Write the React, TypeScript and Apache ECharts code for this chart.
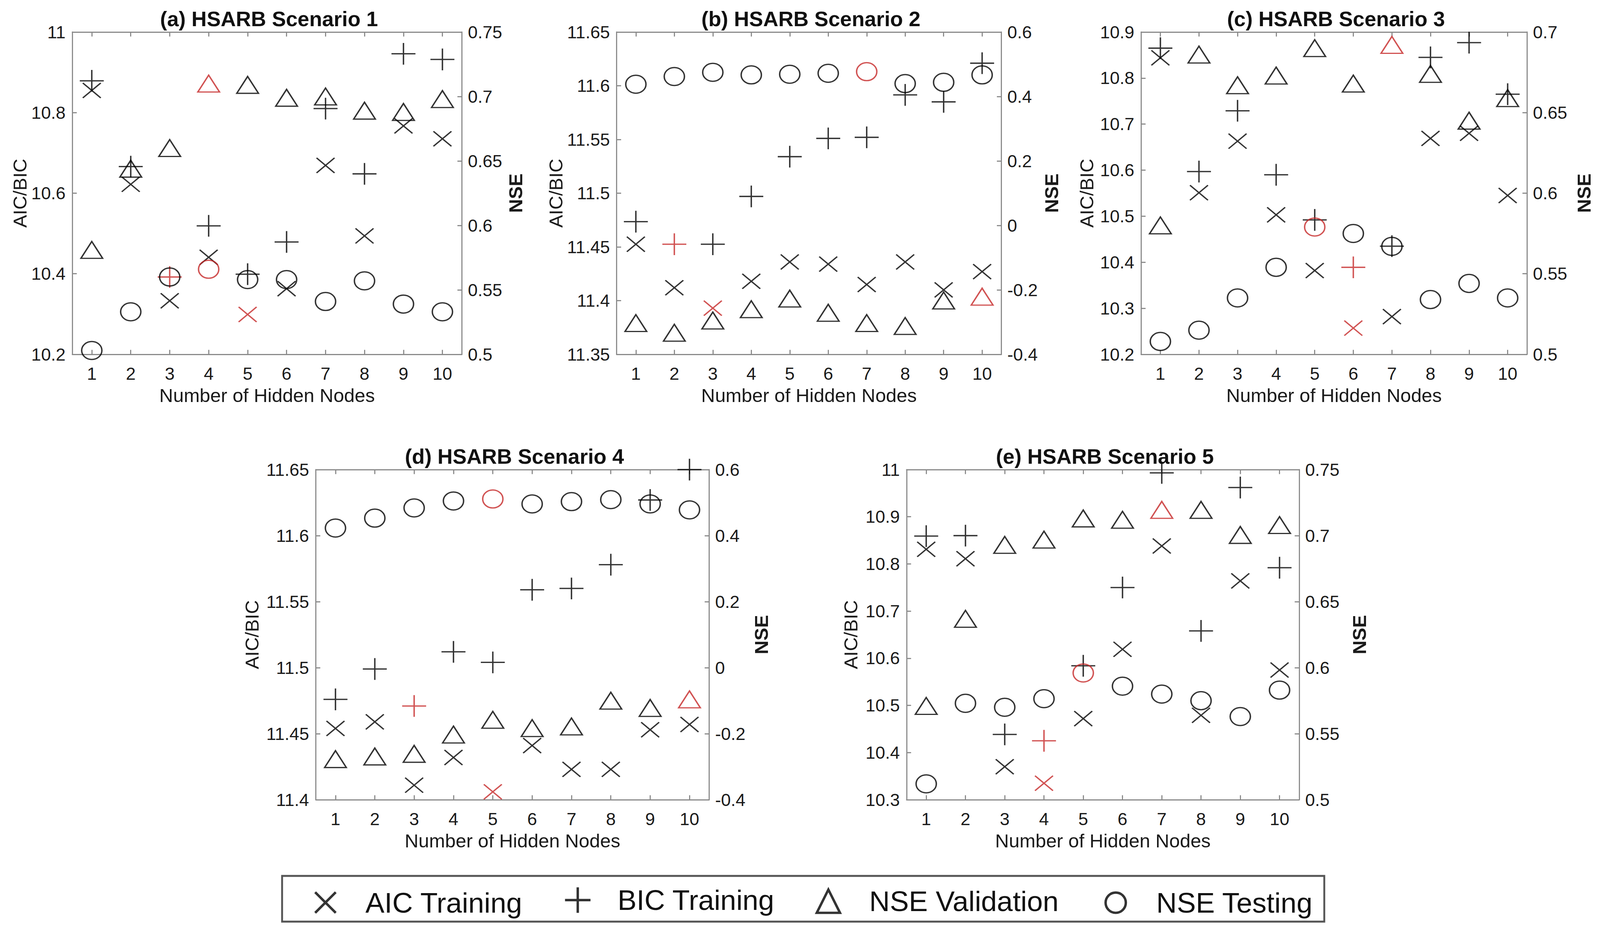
import React, { useEffect, useRef } from "react";
import * as echarts from "echarts";

// ---- data ----
const nodes = ["1", "2", "3", "4", "5", "6", "7", "8", "9", "10"];

const aicA = [10.855, 10.622, 10.333, 10.441, 10.299, 10.363, 10.669, 10.494, 10.767, 10.735];
const bicA = [10.879, 10.666, 10.392, 10.519, 10.399, 10.479, 10.81, 10.648, 10.946, 10.932];
const valA = [0.581, 0.644, 0.66, 0.71, 0.709, 0.699, 0.7, 0.689, 0.688, 0.698];
const testA = [0.503, 0.533, 0.56, 0.566, 0.558, 0.558, 0.541, 0.557, 0.539, 0.533];

const aicB = [11.4525, 11.412, 11.393, 11.418, 11.436, 11.434, 11.415, 11.436, 11.41, 11.427];
const bicB = [11.4735, 11.4525, 11.4525, 11.497, 11.534, 11.551, 11.552, 11.5915, 11.585, 11.621];
const valB = [-0.303, -0.333, -0.295, -0.26, -0.227, -0.271, -0.303, -0.312, -0.233, -0.221];
const testB = [0.438, 0.462, 0.475, 0.467, 0.469, 0.472, 0.477, 0.44, 0.444, 0.467];

const aicC = [10.844, 10.551, 10.663, 10.503, 10.382, 10.257, 10.282, 10.669, 10.68, 10.545];
const bicC = [10.865, 10.597, 10.729, 10.59, 10.492, 10.389, 10.435, 10.845, 10.877, 10.765];
const valC = [0.58, 0.686, 0.667, 0.673, 0.69, 0.668, 0.692, 0.674, 0.645, 0.659];
const testC = [0.508, 0.515, 0.535, 0.554, 0.579, 0.575, 0.567, 0.534, 0.544, 0.535];

const aicD = [11.454, 11.459, 11.411, 11.432, 11.406, 11.441, 11.423, 11.423, 11.453, 11.457];
const bicD = [11.476, 11.499, 11.471, 11.512, 11.504, 11.559, 11.56, 11.578, 11.627, 11.65];
const valD = [-0.277, -0.269, -0.261, -0.2025, -0.158, -0.183, -0.178, -0.1, -0.122, -0.096];
const testD = [0.423, 0.453, 0.484, 0.505, 0.511, 0.496, 0.503, 0.509, 0.496, 0.478];

const aicE = [10.831, 10.811, 10.37, 10.335, 10.472, 10.619, 10.838, 10.479, 10.764, 10.575];
const bicE = [10.859, 10.86, 10.4385, 10.425, 10.584, 10.75, 10.993, 10.658, 10.962, 10.792];
const valE = [0.571, 0.637, 0.693, 0.697, 0.713, 0.712, 0.7195, 0.7195, 0.7005, 0.708];
const testE = [0.512, 0.573, 0.57, 0.5765, 0.596, 0.586, 0.58, 0.575, 0.563, 0.583];

// index (0-based) of the highlighted (red) point in each series: [aic, bic, val, test]
const redA = [4, 2, 3, 3];
const redB = [2, 1, 9, 6];
const redC = [5, 5, 6, 4];
const redD = [4, 2, 9, 4];
const redE = [3, 3, 6, 4];

const titles = [
  "(a) HSARB Scenario 1",
  "(b) HSARB Scenario 2",
  "(c) HSARB Scenario 3",
  "(d) HSARB Scenario 4",
  "(e) HSARB Scenario 5",
];
const seriesNames = ["AIC Training", "BIC Training", "NSE Validation", "NSE Testing"];

// ---- styling / layout (designed for a 4271 x 2383 page) ----
const BASE_W = 4271;
const BASE_H = 2383;
const FONT = "'Liberation Sans', Arial, Helvetica, sans-serif";
const RED = "#c62828";
const AXIS = "#8a8a8a";
const TXT = "#1a1a1a";

const SYM_X = "path://M0,0L10,10M10,0L0,10";
const SYM_PLUS = "path://M5,0L5,10M0,5L10,5";
const SYM_TRI = "path://M5,0L10,10L0,10Z";
const SYM_CIRC = "path://M0,5A5,5,0,1,1,10,5A5,5,0,1,1,0,5Z";

const symbols = [SYM_X, SYM_PLUS, SYM_TRI, SYM_CIRC];
const sizes = [[48, 40], [64, 58], [58, 45], [54, 48]];

const panels = [
  { grid: { left: 193, top: 82, width: 1040, height: 825 }, yl: [10.2, 11, 0.2], yr: [0.5, 0.75, 0.05],
    d: [aicA, bicA, valA, testA], red: redA, gl: 114, gr: 118, titleY: 16 },
  { grid: { left: 1646, top: 82, width: 1027, height: 825 }, yl: [11.35, 11.65, 0.05], yr: [-0.4, 0.6, 0.2],
    d: [aicB, bicB, valB, testB], red: redB, gl: 136, gr: 108, titleY: 16 },
  { grid: { left: 3046, top: 82, width: 1030, height: 825 }, yl: [10.2, 10.9, 0.1], yr: [0.5, 0.7, 0.05],
    d: [aicC, bicC, valC, testC], red: redC, gl: 120, gr: 127, titleY: 16 },
  { grid: { left: 843, top: 1202, width: 1050, height: 845 }, yl: [11.4, 11.65, 0.05], yr: [-0.4, 0.6, 0.2],
    d: [aicD, bicD, valD, testD], red: redD, gl: 145, gr: 114, titleY: 1136 },
  { grid: { left: 2420, top: 1202, width: 1048, height: 845 }, yl: [10.3, 11, 0.1], yr: [0.5, 0.75, 0.05],
    d: [aicE, bicE, valE, testE], red: redE, gl: 123, gr: 135, titleY: 1136 },
];

const legendCfg = [
  { left: 838, size: 55, pad: 74 },
  { left: 1505, size: 68, pad: 67 },
  { left: 2177, size: 62, pad: 73 },
  { left: 2948, size: 54, pad: 76 },
];

const fmt = (v: number) => String(parseFloat(v.toFixed(4)));

function buildOption(sx: number, sy: number) {
  const f = Math.min(sx, sy);
  const X = (v: number) => v * sx;
  const Y = (v: number) => v * sy;
  const grid: any[] = [];
  const xAxis: any[] = [];
  const yAxis: any[] = [];
  const series: any[] = [];
  const title: any[] = [];

  const lineStyle = { color: AXIS, width: 3 * f };
  panels.forEach((p, i) => {
    grid.push({
      left: X(p.grid.left), top: Y(p.grid.top), width: X(p.grid.width), height: Y(p.grid.height),
      containLabel: false,
    });
    title.push({
      text: titles[i],
      left: X(p.grid.left + p.grid.width / 2),
      textAlign: "center",
      top: Y(p.titleY),
      textStyle: { fontFamily: FONT, fontSize: 56 * f, fontWeight: "bold", color: "#111" },
    });
    xAxis.push({
      type: "category", gridIndex: i, data: nodes, position: "bottom", boundaryGap: true,
      axisLine: { show: true, onZero: false, lineStyle },
      axisTick: { show: true, inside: true, alignWithLabel: true, length: 12 * f, lineStyle },
      axisLabel: { fontFamily: FONT, fontSize: 47 * f, color: TXT, margin: 28 * f },
      splitLine: { show: false },
      name: "Number of Hidden Nodes", nameLocation: "middle", nameGap: 84 * f,
      nameTextStyle: { fontFamily: FONT, fontSize: 51 * f, color: TXT },
    });
    xAxis.push({
      type: "category", gridIndex: i, data: nodes, position: "top", boundaryGap: true,
      axisLine: { show: true, onZero: false, lineStyle },
      axisTick: { show: true, inside: true, alignWithLabel: true, length: 12 * f, lineStyle },
      axisLabel: { show: false },
      splitLine: { show: false },
    });
    yAxis.push({
      type: "value", gridIndex: i, position: "left", min: p.yl[0], max: p.yl[1], interval: p.yl[2],
      axisLine: { show: true, onZero: false, lineStyle },
      axisTick: { show: true, inside: true, length: 12 * f, lineStyle },
      axisLabel: { fontFamily: FONT, fontSize: 47 * f, color: TXT, margin: 18 * f, formatter: fmt },
      splitLine: { show: false },
      name: "AIC/BIC", nameLocation: "middle", nameGap: p.gl * f, nameRotate: 90,
      nameTextStyle: { fontFamily: FONT, fontSize: 51 * f, color: TXT },
    });
    yAxis.push({
      type: "value", gridIndex: i, position: "right", min: p.yr[0], max: p.yr[1], interval: p.yr[2],
      axisLine: { show: true, onZero: false, lineStyle },
      axisTick: { show: true, inside: true, length: 12 * f, lineStyle },
      axisLabel: { fontFamily: FONT, fontSize: 47 * f, color: TXT, margin: 16 * f, formatter: fmt },
      splitLine: { show: false },
      name: "NSE", nameLocation: "middle", nameGap: p.gr * f, nameRotate: 90,
      nameTextStyle: { fontFamily: FONT, fontSize: 51 * f, color: TXT, fontWeight: "bold" },
    });
    p.d.forEach((vals, k) => {
      series.push({
        type: "scatter",
        name: seriesNames[k],
        xAxisIndex: 2 * i,
        yAxisIndex: k < 2 ? 2 * i : 2 * i + 1,
        symbol: symbols[k],
        symbolSize: [sizes[k][0] * f, sizes[k][1] * f],
        symbolKeepAspect: false,
        clip: false,
        silent: true,
        itemStyle: { color: "rgba(0,0,0,0)", borderColor: "#000", borderWidth: 3.6 * f },
        emphasis: { disabled: true },
        data: vals.map((v, j) =>
          j === p.red[k] ? { value: v, itemStyle: { borderColor: RED } } : v
        ),
      });
    });
  });

  const legend = legendCfg.map((c, k) => ({
    data: [seriesNames[k]],
    left: X(c.left),
    top: Y(2300) - (c.size * f) / 2,
    itemWidth: c.size * f,
    itemHeight: c.size * f,
    selectedMode: false,
    padding: 0,
    itemStyle: { color: "rgba(0,0,0,0)", borderColor: "#000", borderWidth: 6.5 * f },
    textStyle: { fontFamily: FONT, fontSize: 76 * f, color: "#111", padding: [0, 0, 0, c.pad * f] },
  }));

  return {
    animation: false,
    backgroundColor: "#ffffff",
    title,
    grid,
    xAxis,
    yAxis,
    series,
    legend,
    graphic: [
      {
        type: "rect",
        shape: { x: X(753), y: Y(2242), width: X(2782), height: Y(117) },
        style: { fill: "none", stroke: "#555", lineWidth: 5 * f },
        z: -1,
      },
    ],
  };
}

export default function App() {
  const ref = useRef<HTMLDivElement>(null);
  useEffect(() => {
    document.documentElement.style.margin = "0";
    document.documentElement.style.overflow = "hidden";
    document.body.style.margin = "0";
    document.body.style.overflow = "hidden";
    const el = ref.current;
    if (!el) return;
    const w = window.innerWidth || BASE_W;
    const h = window.innerHeight || BASE_H;
    el.style.width = w + "px";
    el.style.height = h + "px";
    const chart = echarts.init(el, undefined, { renderer: "svg", width: w, height: h });
    chart.setOption(buildOption(w / BASE_W, h / BASE_H) as any);
    return () => chart.dispose();
  }, []);
  return <div ref={ref} style={{ width: BASE_W, height: BASE_H, background: "#fff" }} />;
}
